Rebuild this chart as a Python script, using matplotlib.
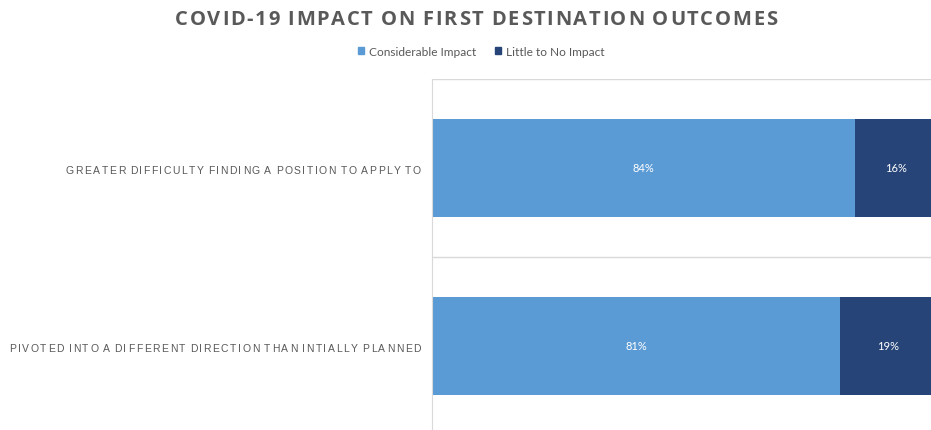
import matplotlib
matplotlib.use("Agg")
import matplotlib.pyplot as plt
from matplotlib.patches import Patch
from matplotlib.font_manager import FontProperties, findfont, get_font

# datos del grafico
categorias = ["GREATER DIFFICULTY FINDING A POSITION TO APPLY TO",
              "PIVOTED INTO A DIFFERENT DIRECTION THAN INTIALLY PLANNED"]
considerable = [84, 81]
poco_nada = [16, 19]
series = ["Considerable Impact", "Little to No Impact"]
titulo = "COVID-19 IMPACT ON FIRST DESTINATION OUTCOMES"

azul = "#5B9BD5"
azul_osc = "#264478"
gris = "#595959"

W, H = 931, 431
fig = plt.figure(figsize=(W / 100, H / 100), dpi=100)
fig.patch.set_facecolor("white")

# ejes: parte derecha recortada como en la imagen original
ax = fig.add_axes([432 / W, -5 / H, 504 / W, 356 / H])
y = list(range(len(categorias)))
b1 = ax.barh(y, considerable, height=0.555, color=azul)
b2 = ax.barh(y, poco_nada, left=considerable, height=0.555, color=azul_osc)
ax.bar_label(b1, labels=[f"{v}%" for v in considerable], label_type="center",
             color="white", fontsize=8, family="Lato")
ax.bar_label(b2, labels=[f"{v}%" for v in poco_nada], label_type="center",
             color="white", fontsize=8, family="Lato")

ax.set_xlim(0, 100)
ax.set_ylim(len(categorias) - 0.5, -0.5)
ax.set_xticks([])
ax.set_yticks(y)
ax.set_yticklabels([])
ax.tick_params(axis="y", length=0)
ax.set_yticks([i - 0.5 for i in range(len(categorias) + 1)], minor=True)
ax.tick_params(axis="y", which="minor", length=0)
ax.grid(axis="y", which="minor", color="#D9D9D9", linewidth=1)
ax.set_axisbelow(True)
for s in ["top", "right", "bottom"]:
    ax.spines[s].set_visible(False)
ax.spines["left"].set_color("#D9D9D9")


# texto con espaciado entre letras (como en Excel)
def texto_espaciado(s, x, ypx, ancho, prop, color, ha="right", esp=0.7):
    f = get_font(findfont(prop))
    f.set_size(prop.get_size_in_points(), 100)
    anchos = []
    for c in s:
        g = f.load_char(ord(c))
        w = g.linearHoriAdvance / 65536
        if c == " ":
            w *= esp
        anchos.append(w)
    extra = (ancho - sum(anchos)) / (len(s) - 1)
    if ha == "right":
        x0 = x - ancho
    else:
        x0 = x - ancho / 2
    for c, w in zip(s, anchos):
        if c != " ":
            fig.text(x0 / W, 1 - ypx / H, c, fontproperties=prop, color=color,
                     ha="left", va="center_baseline")
        x0 += w + extra


prop_eti = FontProperties(family="Liberation Sans", size=7.5)
anchos_eti = [355, 412]
ys_eti = [170, 348]
for cat, an, yy in zip(categorias, anchos_eti, ys_eti):
    texto_espaciado(cat, 421, yy, an, prop_eti, gris, esp=0.5)

prop_tit = FontProperties(family="Open Sans", weight="bold", size=14.5)
texto_espaciado(titulo, 476, 17.5, 602, prop_tit, gris, ha="center", esp=0.9)

handles = [Patch(color=azul), Patch(color=azul_osc)]
fig.legend(handles, series, loc="center", bbox_to_anchor=(481 / W, 1 - 52 / H),
           ncol=2, frameon=False, handlelength=0.55, handleheight=0.55,
           handletextpad=0.35, columnspacing=1.6,
           prop=FontProperties(family="Lato", size=8.6))
for t in fig.legends[0].get_texts():
    t.set_color(gris)

fig.savefig("out.png", dpi=100)
